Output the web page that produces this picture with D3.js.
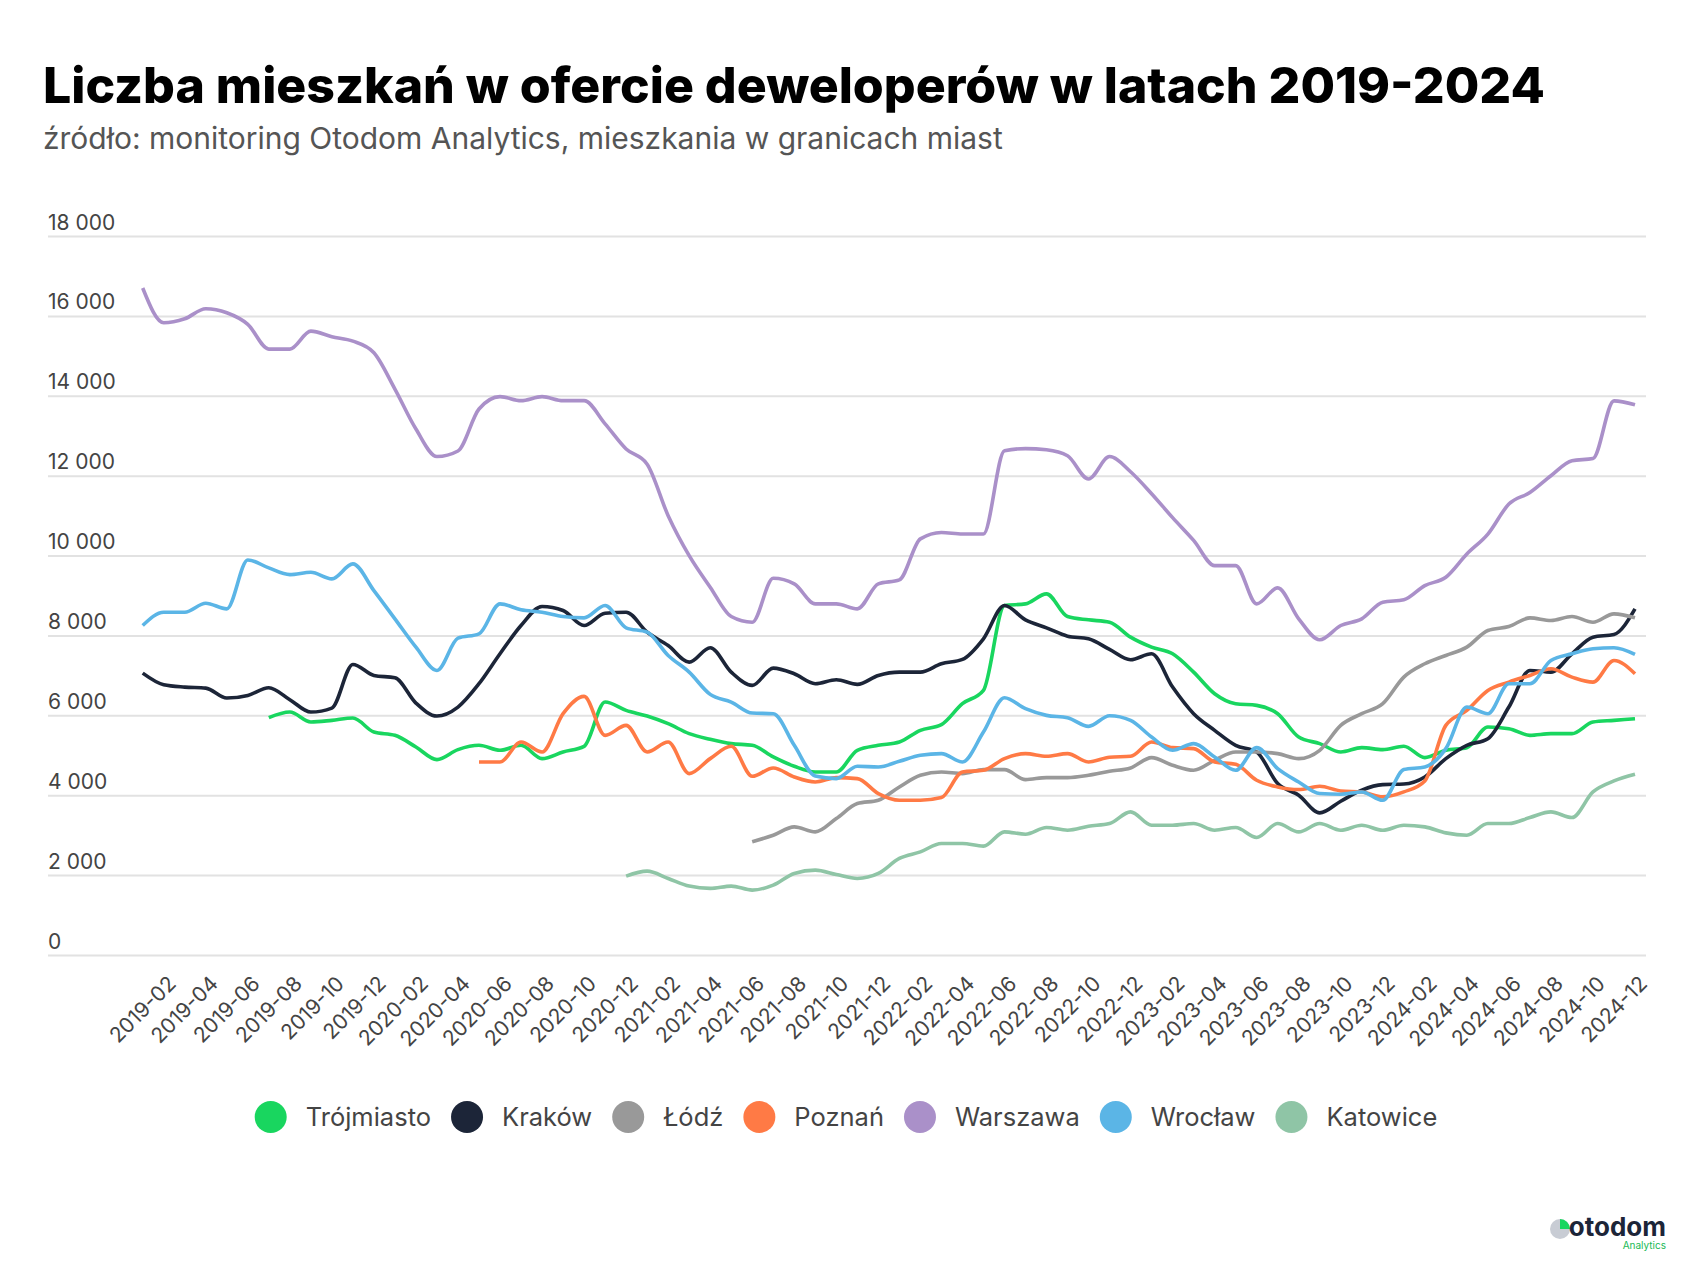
<!DOCTYPE html>
<html><head><meta charset="utf-8">
<script src="https://cdn.jsdelivr.net/npm/d3@7"></script>
<style>body{margin:0;background:#fff;} svg{display:block;font-family:Inter,"Noto Sans",sans-serif;}</style>
</head><body>
<svg id="c" width="1696" height="1262"></svg>
<script>
const months = ["2019-01","2019-02","2019-03","2019-04","2019-05","2019-06","2019-07","2019-08","2019-09","2019-10","2019-11","2019-12",
"2020-01","2020-02","2020-03","2020-04","2020-05","2020-06","2020-07","2020-08","2020-09","2020-10","2020-11","2020-12",
"2021-01","2021-02","2021-03","2021-04","2021-05","2021-06","2021-07","2021-08","2021-09","2021-10","2021-11","2021-12",
"2022-01","2022-02","2022-03","2022-04","2022-05","2022-06","2022-07","2022-08","2022-09","2022-10","2022-11","2022-12",
"2023-01","2023-02","2023-03","2023-04","2023-05","2023-06","2023-07","2023-08","2023-09","2023-10","2023-11","2023-12",
"2024-01","2024-02","2024-03","2024-04","2024-05","2024-06","2024-07","2024-08","2024-09","2024-10","2024-11","2024-12"];

const trojmiasto = [null,null,null,null,null,null,5942,6083,5833,5875,
5933,5583,5500,5208,4892,5142,5250,5125,5250,4917,
5083,5225,6333,6125,5983,5792,5542,5400,5292,5250,
4958,4725,4583,4583,5125,5250,5333,5625,5767,6292,
6625,8750,8792,9042,8475,8392,8333,7958,7708,7542,
7083,6542,6292,6250,6042,5458,5292,5083,5192,5142,
5225,4942,5125,5192,5708,5667,5500,5542,5542,5833,
5875,5917];

const krakow = [7058,6767,6708,6683,6433,6500,6692,6392,6083,6183,
7275,7000,6942,6308,5983,6208,6792,7542,8250,8725,
8625,8250,8558,8583,8083,7750,7333,7692,7083,6750,
7183,7042,6792,6892,6775,7000,7083,7083,7292,7400,
7917,8750,8392,8192,7983,7917,7650,7392,7542,6708,
6042,5625,5250,5083,4292,4000,3558,3850,4130,4267,
4280,4458,4917,5250,5417,6208,7125,7083,7542,7958,
8025,8667];

const lodz = [null,null,null,null,null,null,null,null,null,null,
null,null,null,null,null,null,null,null,null,null,
null,null,null,null,null,null,null,null,null,2833,
3000,3208,3083,3417,3792,3875,4208,4500,4583,4542,
4642,4642,4392,4442,4442,4500,4600,4683,4942,4750,
4625,4875,5083,5083,5042,4917,5125,5750,6042,6292,
6958,7292,7500,7708,8125,8225,8442,8375,8475,8333,
8542,8442];

const poznan = [null,null,null,null,null,null,null,null,null,null,
null,null,null,null,null,null,4833,4833,5333,5083,
6042,6475,5500,5750,5083,5333,4542,4917,5225,4475,
4683,4458,4333,4442,4417,4042,3875,3875,3942,4583,
4625,4917,5042,4975,5042,4833,4950,4975,5333,5192,
5167,4833,4775,4375,4208,4142,4225,4108,4083,3958,
4083,4358,5750,6125,6625,6833,7000,7167,6958,6833,
7375,7042];

const warszawa = [16700,15830,15930,16180,16080,15790,15170,15170,15620,15480,
15370,15080,14170,13170,12480,12620,13670,13980,13880,13980,
13880,13880,13300,12670,12290,11000,10000,9210,8475,8333,
9433,9292,8792,8792,8667,9292,9392,10420,10580,10540,
10540,12625,12680,12650,12500,11920,12480,12100,11550,10950,
10380,9750,9750,8792,9192,8417,7892,8250,8417,8833,
8892,9250,9458,10040,10540,11290,11580,12000,12375,12430,
13875,13775];

const wroclaw = [8250,8583,8583,8808,8667,9892,9692,9525,9583,9417,
9792,9125,8417,7708,7125,7933,8042,8792,8642,8583,
8475,8442,8750,8192,8083,7500,7083,6525,6333,6058,
6042,5250,4480,4417,4725,4708,4850,5000,5042,4833,
5583,6442,6167,6000,5942,5725,5990,5875,5458,5125,
5292,4958,4625,5192,4667,4333,4042,4025,4083,3875,
4642,4708,5167,6208,6042,6792,6792,7375,7542,7667,
7692,7525];

const katowice = [null,null,null,null,null,null,null,null,null,null,
null,null,null,null,null,null,null,null,null,null,
null,null,null,1975,2100,1917,1725,1667,1725,1625,
1750,2042,2125,2017,1917,2042,2417,2583,2792,2792,
2725,3083,3025,3192,3125,3225,3292,3583,3250,3250,
3292,3125,3192,2942,3292,3083,3292,3125,3250,3125,
3250,3208,3058,3000,3292,3292,3442,3583,3442,4083,
4358,4525];

const seriesNames = ["Trójmiasto","Kraków","Łódź","Poznań","Warszawa","Wrocław","Katowice"];
const seriesValues = [trojmiasto, krakow, lodz, poznan, warszawa, wroclaw, katowice];
const seriesColors = ["#19d65f","#1c2538","#999999","#ff7a45","#aa90c9","#5bb5e6","#8fc5a6"];
const yTicks = [0,2000,4000,6000,8000,10000,12000,14000,16000,18000];
const xTickLabels = months.filter((d,i)=>i%2===1);

const svg = d3.select("#c");
const x = d3.scalePoint().domain(months).range([142.7,1635]);
const y = d3.scaleLinear().domain([0,18000]).range([955,236.1]);
const gridL = 48, gridR = 1646;
const fmt = d3.formatLocale({decimal:",",thousands:" ",grouping:[3],currency:["",""]}).format(",d");

function fit(sel, target){ const w = sel.node().getComputedTextLength(); const fs = +sel.attr("font-size"); sel.attr("font-size", fs*target/w); }

// title
const title = svg.append("text").attr("x",43).attr("y",103)
  .attr("font-weight",800).attr("font-size",52).attr("fill","#000")
  .text("Liczba mieszkań w ofercie deweloperów w latach 2019-2024");
fit(title, 1502);
const sub = svg.append("text").attr("x",43).attr("y",149)
  .attr("font-size",26).attr("fill","#555").attr("font-weight",400)
  .text("źródło: monitoring Otodom Analytics, mieszkania w granicach miast");
fit(sub, 960);

// grid + y labels
const gy = svg.append("g").attr("transform",`translate(${gridL},0)`)
  .call(d3.axisRight(y).tickValues(yTicks).tickSize(gridR-gridL).tickFormat(fmt));
gy.select(".domain").remove();
gy.selectAll(".tick line").attr("stroke","#e2e2e2").attr("stroke-width",2);
gy.selectAll(".tick text").attr("x",0).attr("dy",-7).attr("text-anchor","start")
  .attr("font-size",21).attr("fill","#444").attr("font-family","Inter,sans-serif");

// x labels
const gx = svg.append("g").attr("transform","translate(0,955)")
  .call(d3.axisBottom(x).tickValues(xTickLabels).tickSize(0));
gx.select(".domain").remove();
gx.selectAll(".tick text").attr("text-anchor","end").attr("dy",0).attr("y",0)
  .attr("transform","translate(13,30) rotate(-45)")
  .attr("font-size",21).attr("fill","#444").attr("font-family","Inter,sans-serif");

// lines
const line = d3.line().defined(d=>d!=null).x((d,i)=>x(months[i])).y(d=>y(d)).curve(d3.curveMonotoneX);
svg.append("g").selectAll("path").data(seriesValues).join("path")
  .attr("d", d=>line(d)).attr("fill","none")
  .attr("stroke",(d,i)=>seriesColors[i]).attr("stroke-width",3.6)
  .attr("stroke-linejoin","round").attr("stroke-linecap","butt");

// legend
const lg = svg.append("g");
let cx = 0;
seriesNames.forEach((n,i)=>{
  const g = lg.append("g");
  g.append("circle").attr("cx",0).attr("cy",0).attr("r",16).attr("fill",seriesColors[i]);
  const t = g.append("text").attr("x",35).attr("y",9).attr("font-size",25.5).attr("fill","#444").text(n);
  const w = t.node().getComputedTextLength();
  g.attr("transform",`translate(${cx},1117)`);
  cx += 35 + w + 36;
});
const spanW = (cx - 36) + 16;
lg.attr("transform",`translate(${846 - spanW/2 + 16},0)`);

// logo
const logo = svg.append("g");
logo.append("circle").attr("cx",1560).attr("cy",1229).attr("r",10).attr("fill","#c8ccd4");
logo.append("path").attr("d",d3.arc()({innerRadius:0,outerRadius:10,startAngle:0,endAngle:Math.PI/2})).attr("transform","translate(1560,1229)").attr("fill","#19d65f");
logo.append("text").attr("x",1666).attr("y",1236).attr("text-anchor","end").attr("font-size",26).attr("font-weight",700).attr("fill","#1c2538").text("otodom");
logo.append("text").attr("x",1666).attr("y",1249).attr("text-anchor","end").attr("font-size",10).attr("fill","#19b956").text("Analytics");
</script>
</body></html>
